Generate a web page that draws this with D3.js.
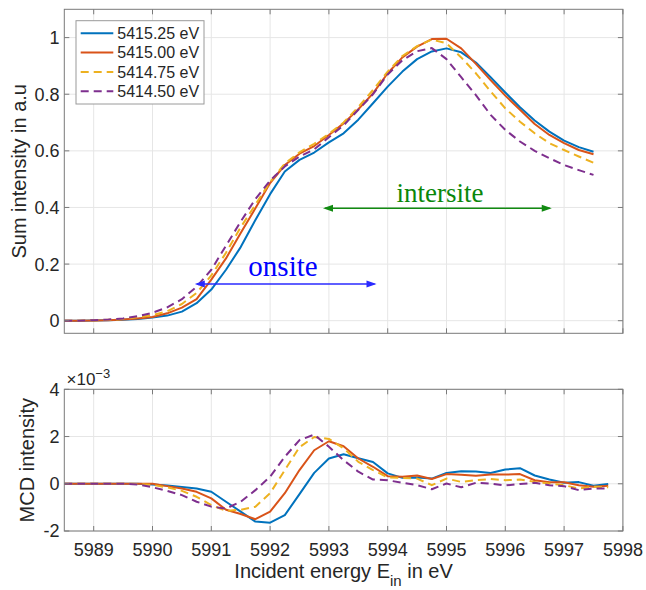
<!DOCTYPE html>
<html>
<head>
<meta charset="utf-8">
<script src="https://cdn.jsdelivr.net/npm/d3@7"></script>
<style>
  html, body { margin: 0; padding: 0; background: #fff; }
  svg { display: block; }
  text { font-family: "Liberation Sans", Arial, Helvetica, sans-serif; }
</style>
</head>
<body>
<svg id="chart" width="646" height="590"></svg>
<script>
// ---------------- DATA ----------------
const seriesLabels = ["5415.25 eV", "5415.00 eV", "5414.75 eV", "5414.50 eV"];
const seriesColors = ["#0072BD", "#D95319", "#EDB120", "#7E2F8E"];
const seriesDashed = [false, false, true, true];

const energySum = [5988.5, 5988.75, 5989, 5989.25, 5989.5, 5989.75, 5990, 5990.25, 5990.5, 5990.75,
  5991, 5991.25, 5991.5, 5991.75, 5992, 5992.25, 5992.5, 5992.75, 5993, 5993.25,
  5993.5, 5993.75, 5994, 5994.25, 5994.5, 5994.75, 5995, 5995.25, 5995.5, 5995.75,
  5996, 5996.25, 5996.5, 5996.75, 5997, 5997.25, 5997.5];

const sum5415_25 = [0, 0, 0.001, 0.002, 0.003, 0.006, 0.011, 0.018, 0.032, 0.062,
  0.11, 0.18, 0.26, 0.356, 0.447, 0.527, 0.568, 0.594, 0.63, 0.662,
  0.71, 0.768, 0.827, 0.88, 0.924, 0.951, 0.962, 0.948, 0.912, 0.86,
  0.806, 0.754, 0.707, 0.668, 0.636, 0.613, 0.597];
const sum5415_00 = [0, 0, 0.001, 0.002, 0.004, 0.008, 0.013, 0.026, 0.046, 0.076,
  0.145, 0.22, 0.31, 0.397, 0.486, 0.55, 0.59, 0.617, 0.656, 0.697,
  0.747, 0.803, 0.874, 0.93, 0.968, 0.995, 0.996, 0.962, 0.907, 0.85,
  0.795, 0.745, 0.695, 0.656, 0.627, 0.603, 0.588];
const sum5414_75 = [0, 0, 0.001, 0.003, 0.006, 0.012, 0.02, 0.033, 0.059, 0.098,
  0.16, 0.24, 0.33, 0.41, 0.49, 0.555, 0.595, 0.625, 0.66, 0.70,
  0.755, 0.815, 0.88, 0.935, 0.97, 0.993, 0.98, 0.93, 0.874, 0.81,
  0.75, 0.703, 0.662, 0.627, 0.603, 0.58, 0.558];
const sum5414_50 = [0, 0, 0.002, 0.004, 0.008, 0.016, 0.028, 0.047, 0.076, 0.12,
  0.18, 0.265, 0.35, 0.43, 0.495, 0.545, 0.58, 0.605, 0.648, 0.69,
  0.745, 0.80, 0.87, 0.92, 0.952, 0.963, 0.924, 0.86, 0.797, 0.727,
  0.674, 0.633, 0.60, 0.574, 0.55, 0.532, 0.515];

const energyMCD = [5988.5, 5988.75, 5989, 5989.25, 5989.5, 5989.75, 5990, 5990.25, 5990.5, 5990.75,
  5991, 5991.25, 5991.5, 5991.75, 5992, 5992.25, 5992.5, 5992.75, 5993, 5993.25,
  5993.5, 5993.75, 5994, 5994.25, 5994.5, 5994.75, 5995, 5995.25, 5995.5, 5995.75,
  5996, 5996.25, 5996.5, 5996.75, 5997, 5997.25, 5997.5, 5997.75];

// MCD values in units of 1e-3
const mcd5415_25 = [0, 0, 0, 0, 0, 0, -0.03, -0.07, -0.14, -0.2,
  -0.34, -0.76, -1.18, -1.6, -1.65, -1.33, -0.44, 0.46, 1.07, 1.25,
  1.08, 0.92, 0.44, 0.25, 0.27, 0.22, 0.46, 0.53, 0.52, 0.46,
  0.6, 0.66, 0.35, 0.18, 0.04, 0.07, -0.08, -0.01];
const mcd5415_00 = [0, 0, 0, 0, 0, 0, 0, -0.1, -0.2, -0.34,
  -0.62, -1.1, -1.28, -1.5, -1.18, -0.4, 0.58, 1.42, 1.8, 1.59,
  1.07, 0.72, 0.32, 0.3, 0.35, 0.2, 0.41, 0.38, 0.34, 0.39,
  0.39, 0.41, 0.15, 0.06, 0.06, -0.06, -0.13, -0.08];
const mcd5414_75 = [0, 0, 0, 0, 0, -0.01, -0.05, -0.15, -0.3, -0.55,
  -0.9, -1.15, -1.1, -0.97, -0.4, 0.58, 1.55, 1.98, 1.9, 1.5,
  0.93, 0.58, 0.27, 0.25, 0.22, -0.06, 0.22, 0.08, 0.15, 0.2,
  0.15, 0.18, 0.08, 0.01, -0.06, -0.2, -0.13, -0.15];
const mcd5414_50 = [0, 0, 0, 0, 0, -0.03, -0.15, -0.3, -0.48, -0.76,
  -0.97, -1.05, -0.76, -0.27, 0.3, 1.14, 1.85, 2.08, 1.57, 1.0,
  0.51, 0.18, 0.15, 0.04, -0.06, -0.23, 0.01, -0.15, 0.04, 0.01,
  -0.07, -0.01, 0.04, -0.06, -0.1, -0.27, -0.2, -0.2];

const sumSeries = [sum5415_25, sum5415_00, sum5414_75, sum5414_50];
const mcdSeries = [mcd5415_25, mcd5415_00, mcd5414_75, mcd5414_50];

const xTicks = [5989, 5990, 5991, 5992, 5993, 5994, 5995, 5996, 5997, 5998];
const sumYTicks = [0, 0.2, 0.4, 0.6, 0.8, 1];
const sumYTickLabels = ["0", "0.2", "0.4", "0.6", "0.8", "1"];
const mcdYTicks = [-2, 0, 2, 4];
const mcdYTickLabels = ["-2", "0", "2", "4"];

// annotations (data coordinates)
const onsiteArrow = { x0: 5990.72, x1: 5993.81, y: 0.13 };
const onsiteLabel = { text: "onsite", x: 5991.63, y: 0.159 };
const intersiteArrow = { x0: 5992.9, x1: 5996.79, y: 0.397 };
const intersiteLabel = { text: "intersite", x: 5994.15, y: 0.42 };

// ---------------- LAYOUT ----------------
const svg = d3.select("#chart");
const left = 64.3, right = 622.9;
const top1 = 9.3, bottom1 = 333.3;
const top2 = 389.3, bottom2 = 531;
const axisColor = "#7a7a7a";
const gridColor = "#e6e6e6";
const textColor = "#262626";
const tickLen = 5;

const x = d3.scaleLinear().domain([5988.5, 5998]).range([left, right]);
const y1 = d3.scaleLinear().domain([-0.0445, 1.1]).range([bottom1, top1]);
const y2 = d3.scaleLinear().domain([-2, 4]).range([bottom2, top2]);

function drawGrid(yScale, yTop, yBottom, yTicks) {
  const g = svg.append("g");
  g.selectAll(".vg").data(xTicks).enter().append("line")
    .attr("x1", d => x(d)).attr("x2", d => x(d))
    .attr("y1", yTop).attr("y2", yBottom)
    .attr("stroke", gridColor).attr("stroke-width", 1);
  g.selectAll(".hg").data(yTicks).enter().append("line")
    .attr("x1", left).attr("x2", right)
    .attr("y1", d => yScale(d)).attr("y2", d => yScale(d))
    .attr("stroke", gridColor).attr("stroke-width", 1);
}

function drawFrame(yScale, yTop, yBottom, yTicks, yLabels, showXLabels) {
  const g = svg.append("g");
  g.selectAll(".xtb").data(xTicks).enter().append("line")
    .attr("x1", d => x(d)).attr("x2", d => x(d))
    .attr("y1", yBottom).attr("y2", yBottom - tickLen)
    .attr("stroke", axisColor);
  g.selectAll(".xtt").data(xTicks).enter().append("line")
    .attr("x1", d => x(d)).attr("x2", d => x(d))
    .attr("y1", yTop).attr("y2", yTop + tickLen)
    .attr("stroke", axisColor);
  g.selectAll(".ytl").data(yTicks).enter().append("line")
    .attr("x1", left).attr("x2", left + tickLen)
    .attr("y1", d => yScale(d)).attr("y2", d => yScale(d))
    .attr("stroke", axisColor);
  g.selectAll(".ytr").data(yTicks).enter().append("line")
    .attr("x1", right).attr("x2", right - tickLen)
    .attr("y1", d => yScale(d)).attr("y2", d => yScale(d))
    .attr("stroke", axisColor);
  g.append("rect")
    .attr("x", left).attr("y", yTop)
    .attr("width", right - left).attr("height", yBottom - yTop)
    .attr("fill", "none").attr("stroke", axisColor).attr("stroke-width", 1);
  g.selectAll(".ylab").data(yTicks).enter().append("text")
    .attr("x", 59.5).attr("y", d => yScale(d)).attr("dy", "0.36em")
    .attr("text-anchor", "end").attr("font-size", 18).attr("fill", textColor)
    .text((d, i) => yLabels[i]);
  if (showXLabels) {
    g.selectAll(".xlab").data(xTicks).enter().append("text")
      .attr("x", d => x(d)).attr("y", 556)
      .attr("text-anchor", "middle").attr("font-size", 18).attr("fill", textColor)
      .text(d => String(d));
  }
}

const lineGen = (xs, yScale) => d3.line()
  .x((d, i) => x(xs[i]))
  .y(d => yScale(d));

// ---------- Top panel ----------
drawGrid(y1, top1, bottom1, sumYTicks);
const gTop = svg.append("g");
sumSeries.forEach((vals, k) => {
  gTop.append("path")
    .datum(vals)
    .attr("d", lineGen(energySum, y1))
    .attr("fill", "none")
    .attr("stroke", seriesColors[k])
    .attr("stroke-width", 2)
    .attr("stroke-linejoin", "round")
    .attr("stroke-dasharray", seriesDashed[k] ? "8,5" : null);
});

function doubleArrow(a, color, width) {
  const g = svg.append("g");
  const xa = x(a.x0), xb = x(a.x1), yy = y1(a.y);
  const hl = 10, hw = 3.5;
  g.append("line").attr("x1", xa + 2).attr("x2", xb - 2)
    .attr("y1", yy).attr("y2", yy)
    .attr("stroke", color).attr("stroke-width", width);
  g.append("path").attr("d", `M${xa},${yy}L${xa + hl},${yy - hw}L${xa + hl},${yy + hw}Z`).attr("fill", color);
  g.append("path").attr("d", `M${xb},${yy}L${xb - hl},${yy - hw}L${xb - hl},${yy + hw}Z`).attr("fill", color);
}
doubleArrow(onsiteArrow, "#2a2aff", 1.5);
doubleArrow(intersiteArrow, "#118a11", 1.5);

svg.append("text")
  .attr("x", x(onsiteLabel.x)).attr("y", y1(onsiteLabel.y))
  .attr("font-size", 29).attr("fill", "#0000ff")
  .style("font-family", "'Liberation Serif', 'Times New Roman', serif")
  .text(onsiteLabel.text);
svg.append("text")
  .attr("x", x(intersiteLabel.x)).attr("y", y1(intersiteLabel.y))
  .attr("font-size", 27).attr("fill", "#0a870a")
  .style("font-family", "'Liberation Serif', 'Times New Roman', serif")
  .text(intersiteLabel.text);

drawFrame(y1, top1, bottom1, sumYTicks, sumYTickLabels, false);

// legend
const lg = svg.append("g");
lg.append("rect").attr("x", 76).attr("y", 20.7).attr("width", 128).attr("height", 83.3)
  .attr("fill", "#fff").attr("stroke", "#9a9a9a").attr("stroke-width", 1);
const rowY = [33.3, 52.6, 71.9, 91.2];
seriesLabels.forEach((lab, k) => {
  lg.append("line").attr("x1", 80.7).attr("x2", 113.3)
    .attr("y1", rowY[k]).attr("y2", rowY[k])
    .attr("stroke", seriesColors[k]).attr("stroke-width", 2)
    .attr("stroke-dasharray", seriesDashed[k] ? "8,5" : null);
  lg.append("text").attr("x", 117.3).attr("y", rowY[k]).attr("dy", "0.36em")
    .attr("font-size", 16).attr("fill", textColor).text(lab);
});

svg.append("text")
  .attr("transform", `translate(26,${(top1 + bottom1) / 2}) rotate(-90)`)
  .attr("text-anchor", "middle").attr("font-size", 20).attr("fill", textColor)
  .text("Sum intensity in a.u");

// ---------- Bottom panel ----------
drawGrid(y2, top2, bottom2, mcdYTicks);
const gBot = svg.append("g");
mcdSeries.forEach((vals, k) => {
  gBot.append("path")
    .datum(vals)
    .attr("d", lineGen(energyMCD, y2))
    .attr("fill", "none")
    .attr("stroke", seriesColors[k])
    .attr("stroke-width", 2)
    .attr("stroke-linejoin", "round")
    .attr("stroke-dasharray", seriesDashed[k] ? "8,5" : null);
});
drawFrame(y2, top2, bottom2, mcdYTicks, mcdYTickLabels, true);

const ex = svg.append("text").attr("x", 66.5).attr("y", 385).attr("fill", textColor).attr("font-size", 17);
ex.append("tspan").text("\u00d710");
ex.append("tspan").attr("font-size", 13).attr("dy", -7).text("\u22123");

svg.append("text")
  .attr("transform", `translate(34,${(top2 + bottom2) / 2}) rotate(-90)`)
  .attr("text-anchor", "middle").attr("font-size", 20).attr("fill", textColor)
  .text("MCD intensity");

const xl = svg.append("text").attr("x", (left + right) / 2).attr("y", 578.3)
  .attr("text-anchor", "middle").attr("font-size", 20).attr("fill", textColor);
xl.append("tspan").text("Incident energy E");
xl.append("tspan").attr("font-size", 15).attr("dy", 8).text("in");
xl.append("tspan").attr("dy", -8).text(" in eV");
</script>
</body>
</html>
